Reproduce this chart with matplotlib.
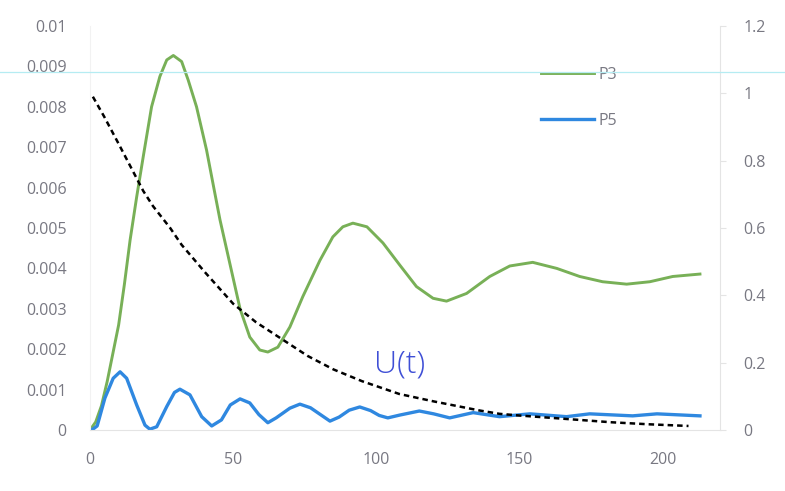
import matplotlib
matplotlib.use("Agg")
import matplotlib.pyplot as plt
from matplotlib.lines import Line2D

plt.rcParams['font.family'] = ['Open Sans', 'DejaVu Sans']

# ---- data ----
t_p3 = [0, 2, 4, 6, 8, 10, 12, 14, 16.3, 18.6, 21.5, 24.4, 26.8, 29.1, 32, 34.3, 37.2,
        40.7, 43.6, 45.4, 48.9, 52.4, 55.8, 59.3, 62.1, 65.6, 69.8, 74.3, 80.3, 84.8,
        88.3, 91.8, 96.7, 102.3, 108.2, 114, 119.8, 124.5, 131.5, 139.6, 146.6, 154.6,
        163, 171, 179, 187.4, 195.5, 203.5, 213]
p3 = [0.0, 0.0002, 0.0006, 0.0012, 0.0019, 0.0026, 0.0036, 0.0047, 0.00577, 0.00677,
      0.0080, 0.00875, 0.00916, 0.00927, 0.00912, 0.00866, 0.0080, 0.00693, 0.00586,
      0.0052, 0.0041, 0.0030, 0.0023, 0.00198, 0.00193, 0.00205, 0.00255, 0.0033,
      0.0042, 0.00478, 0.00503, 0.00512, 0.00503, 0.00463, 0.00408, 0.00355, 0.00326,
      0.00319, 0.00338, 0.0038, 0.00406, 0.00415, 0.0040, 0.0038, 0.00367, 0.00361,
      0.00367, 0.0038, 0.00386]

t_p5 = [0, 1, 2.5, 5.2, 8.1, 10.5, 12.8, 16.3, 19.2, 20.9, 23.3, 26.8, 29.5, 31.4, 34.9,
        39, 42.5, 45.9, 49, 52.4, 55.8, 59, 62.1, 65, 69.8, 73.3, 77, 80.5, 83.8, 87, 90.5,
        94.2, 98, 101, 104, 108.2, 115, 120, 125.6, 133.8, 143, 153.6, 166.4, 174.5,
        189.5, 198, 213]
p5 = [0.0, 0.00002, 0.0001, 0.00079, 0.00128, 0.00144, 0.00128, 0.00062, 0.00012, 0.00002,
      0.00008, 0.00058, 0.00093, 0.00101, 0.00087, 0.00033, 0.0001, 0.00025, 0.00062,
      0.00077, 0.00067, 0.00038, 0.00018, 0.0003, 0.00054, 0.00064, 0.00055, 0.00038,
      0.00022, 0.00032, 0.00049, 0.00057, 0.00048, 0.00036, 0.0003, 0.00037, 0.00047,
      0.0004, 0.0003, 0.00043, 0.00033, 0.0004, 0.00033, 0.0004, 0.00035, 0.0004,
      0.00035]

t_u = [1, 5, 10, 18.6, 22, 28, 32, 40, 50, 58, 67, 76, 85, 95, 108, 120, 136, 143, 150,
       166, 182, 195, 209]
u = [0.99, 0.93, 0.85, 0.71, 0.665, 0.60, 0.55, 0.47, 0.375, 0.32, 0.27, 0.22, 0.18,
     0.145, 0.107, 0.085, 0.058, 0.048, 0.043, 0.033, 0.023, 0.017, 0.012]

x_ticks = [0, 50, 100, 150, 200]
left_ticks = [0, 0.001, 0.002, 0.003, 0.004, 0.005, 0.006, 0.007, 0.008, 0.009, 0.01]
left_labels = ['0', '0.001', '0.002', '0.003', '0.004', '0.005', '0.006', '0.007',
               '0.008', '0.009', '0.01']
right_ticks = [0, 0.2, 0.4, 0.6, 0.8, 1.0, 1.2]
right_labels = ['0', '0.2', '0.4', '0.6', '0.8', '1', '1.2']

# ---- figure ----
fig = plt.figure(figsize=(7.85, 4.91), dpi=100)
ax = fig.add_axes([90/785, 1 - 430/491, (720-90)/785, (430-26)/491])
ax2 = ax.twinx()

green = '#78b057'
blue = '#2f88e0'
tick_col = '#787882'
axis_col = '#e4e4e4'

ax.plot(t_p3, p3, color=green, lw=2.1, label='P3', solid_joinstyle='round')
ax.plot(t_p5, p5, color=blue, lw=2.4, label='P5', solid_joinstyle='round')
ax2.plot(t_u, u, color='black', lw=1.8, dashes=(2.2, 1.6))

ax.set_xlim(0, 220)
ax.set_ylim(0, 0.01)
ax2.set_ylim(0, 1.2)

ax.set_xticks(x_ticks)
ax.set_xticklabels([str(v) for v in x_ticks])
ax.set_yticks(left_ticks)
ax.set_yticklabels(left_labels)
ax2.set_yticks(right_ticks)
ax2.set_yticklabels(right_labels)

for a in (ax, ax2):
    for s in a.spines.values():
        s.set_visible(False)
ax.spines['bottom'].set_visible(True)
ax.spines['bottom'].set_color(axis_col)
ax.spines['left'].set_visible(True)
ax.spines['left'].set_color('#f2f2f2')
ax2.spines['right'].set_visible(True)
ax2.spines['right'].set_color(axis_col)

ax.tick_params(axis='x', length=0, pad=16, labelsize=11.5, labelcolor=tick_col)
ax.tick_params(axis='y', length=0, pad=17, labelsize=11.5, labelcolor=tick_col)
ax2.tick_params(axis='y', length=4, color=axis_col, pad=13, labelsize=11.5,
                labelcolor=tick_col)

leg = ax.legend(loc='upper left', bbox_to_anchor=(0.693, 0.935), frameon=False,
                handlelength=3.3, labelspacing=1.9, handletextpad=0.3, fontsize=11.5)
for txt in leg.get_texts():
    txt.set_color(tick_col)

ax2.text(108, 0.195, 'U(t)', color='#3f4fd6', fontsize=23, ha='center', va='center',
         family=['Open Sans', 'DejaVu Sans'], fontweight='light')

# faint cyan scan line across the image
fig.add_artist(Line2D([0, 1], [1 - 72/491, 1 - 72/491], transform=fig.transFigure,
                      color='#b5ecf2', lw=0.9))

fig.savefig('out.png', dpi=100)
